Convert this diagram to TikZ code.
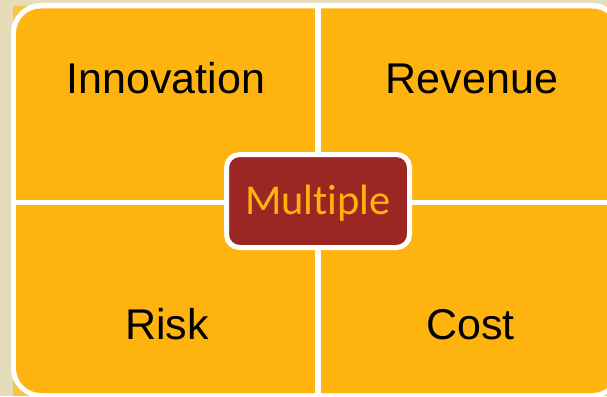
\documentclass[tikz,border=0pt]{standalone}
\usepackage{fontspec}
\newfontfamily\arialf{Liberation Sans}
\newfontfamily\calf[RawFeature=-liga]{Carlito}
\definecolor{bg}{HTML}{E5DCB9}
\definecolor{orng}{HTML}{FFB30F}
\definecolor{pale}{HTML}{F6C543}
\definecolor{dred}{HTML}{9C2622}
\begin{document}
\begin{tikzpicture}[x=1pt,y=-1pt,
  lbl/.style={font=\arialf\fontsize{43}{50}\selectfont, text=black, anchor=base, inner sep=0pt},
  centerbox/.style={draw=white, line width=5pt, fill=dred, rounded corners=13pt,
    minimum width=183pt, minimum height=93pt, inner sep=0pt,
    text=orng, font=\calf\fontsize{42.5}{48}\selectfont, text height=30pt, text depth=4pt}]
\useasboundingbox (0,0) rectangle (607,396);
\clip (0,0) rectangle (607,396);
\fill[bg] (0,0) rectangle (607,396);
\fill[pale] (13,6) rectangle (607,396);
\fill[white, rounded corners=30pt] (11,3) rectangle (622,398);
\fill[orng, rounded corners=25pt] (16,8.5) rectangle (617,393);
\fill[white] (315,8) rectangle (321,396);
\fill[white] (16,200) rectangle (617,205);
\node[lbl] (inn) at (166,93) {Innovation};
\node[lbl] (rev) at (472,93) {Revenue};
\node[lbl] (risk) at (167,339) {Risk};
\node[lbl] (cost) at (470.5,339) {Cost};
\node[centerbox] (mult) at (318,201) {Multiple};
\end{tikzpicture}
\end{document}
